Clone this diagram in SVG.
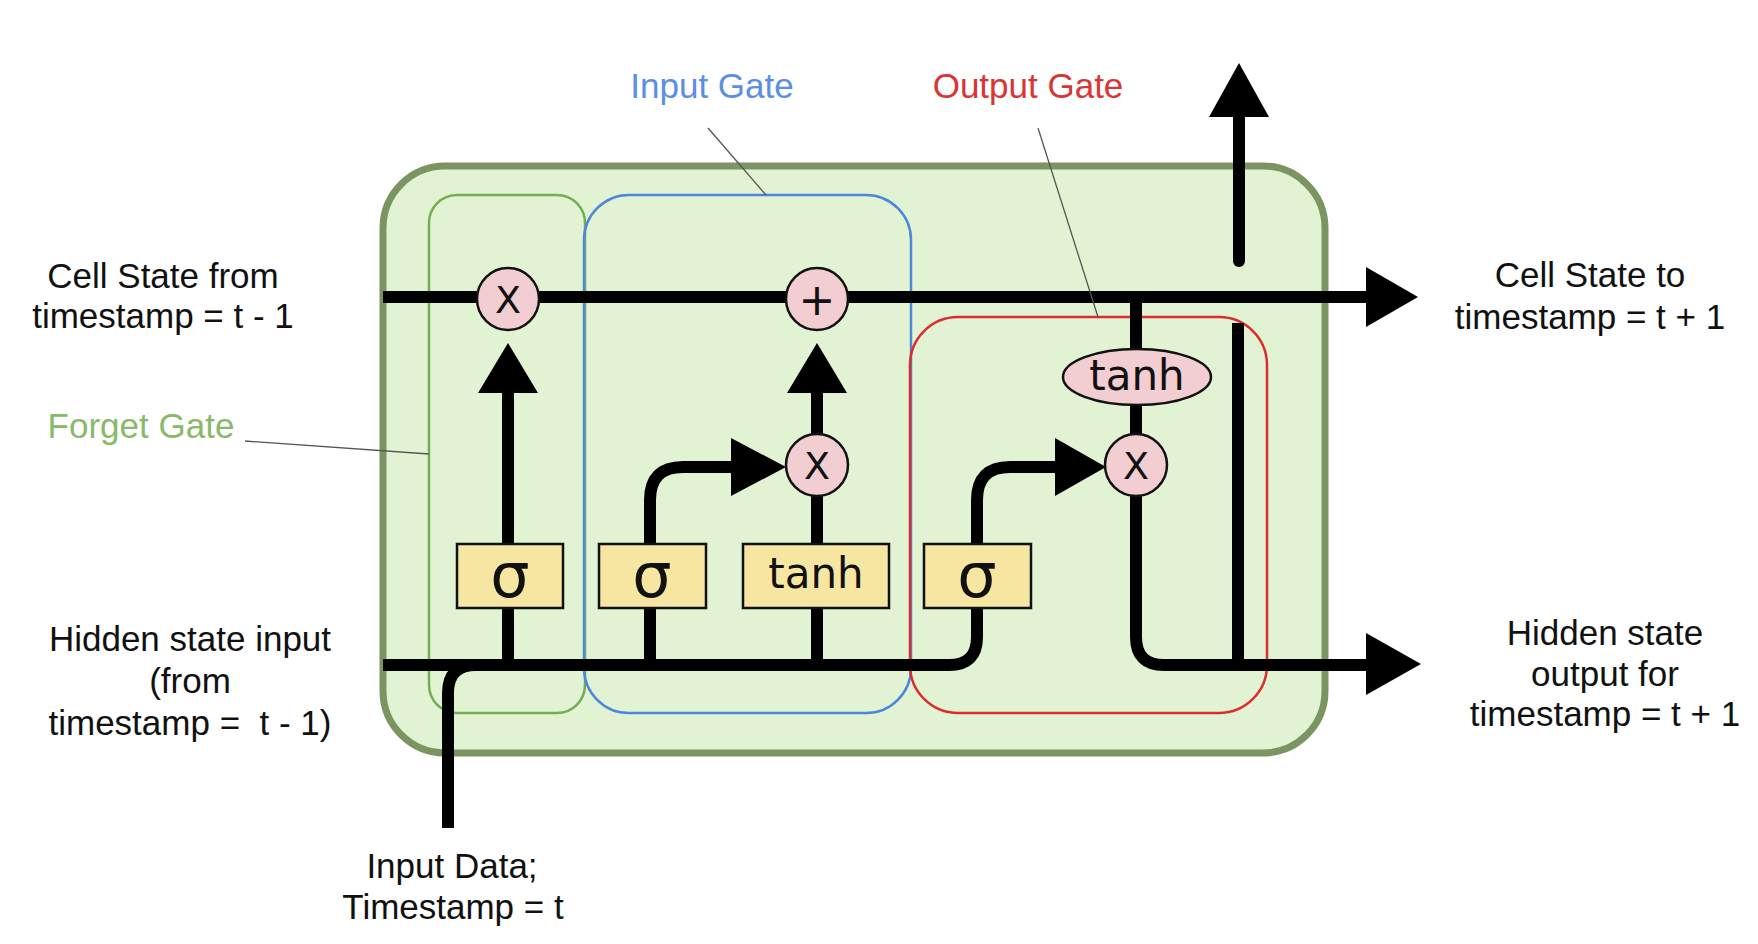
<svg xmlns="http://www.w3.org/2000/svg" width="1758" height="944" viewBox="0 0 1758 944">
<style>
.lbl{font-family:"Liberation Sans",Arial,sans-serif;font-size:35px;fill:#111;text-anchor:middle}
.op{font-family:"DejaVu Sans",sans-serif;fill:#111;text-anchor:middle}
.wire{fill:none;stroke:#000;stroke-width:12}
.head{fill:#000}
.circ{fill:#f2cdd1;stroke:#111;stroke-width:2.5}
.ybox{fill:#f7e6a2;stroke:#111;stroke-width:2.5}
.lead{stroke:#555;stroke-width:1.3;fill:none}
.gate{fill:none;stroke-width:2.5}
</style>
<rect width="1758" height="944" fill="#ffffff"/>

<g id="cell">
<rect x="383" y="166" width="942" height="587" rx="62" ry="62" fill="#e2f3d4" stroke="#7b9462" stroke-width="7"/>
</g>

<g id="gates">
<rect id="forget-gate" class="gate" x="429" y="195" width="156" height="518" rx="28" stroke="#74ae52"/>
<rect id="input-gate" class="gate" x="584" y="195" width="327" height="518" rx="45" stroke="#4d86dc"/>
<rect id="output-gate" class="gate" x="910" y="317" width="357" height="396" rx="48" stroke="#dc2d2d"/>
</g>

<g id="connectors">
<path class="wire" d="M383,297 H1370"/>
<polygon class="head" points="1366,267 1418,297 1366,327"/>
<path class="wire" d="M383,665 H949 Q977,665 977,637 V606"/>
<path class="wire" d="M448,828 V693 Q448,665 476,665 H500"/>
<path class="wire" d="M508,665 V606 M508,546 V390"/>
<polygon class="head" points="478,393 508,343 538,393"/>
<path class="wire" d="M650,665 V606 M650,546 V500 Q650,467 683,467 H735"/>
<polygon class="head" points="731,438 786,467 731,496"/>
<path class="wire" d="M817,665 V606 M817,546 V493 M817,437 V390"/>
<polygon class="head" points="787,393 817,343 847,393"/>
<path class="wire" d="M977,546 V500 Q977,467 1010,467 H1059"/>
<polygon class="head" points="1055,438 1106,467 1055,496"/>
<path class="wire" d="M1136,297 V350 M1136,404 V437 M1136,493 V637 Q1136,665 1164,665 H1370"/>
<polygon class="head" points="1366,633 1421,664 1366,695"/>
<path class="wire" d="M1238,323 V665"/>
<path class="wire" d="M1239,261 V112" stroke-linecap="round"/>
<path class="wire" d="M1239,118 V112"/>
<polygon class="head" points="1209,117 1239,63 1269,117"/>
</g>

<g id="leaders">
<path class="lead" d="M245,441 L429,454"/>
<path class="lead" d="M708,128 L766,195"/>
<path class="lead" d="M1038,128 L1098,317"/>
</g>

<g id="forget-mult"><circle class="circ" cx="508" cy="299" r="31"/><text class="op" x="508" y="300" font-size="38" dominant-baseline="central">X</text></g>
<g id="add"><circle class="circ" cx="817" cy="299" r="31"/><text class="op" x="817" y="299" font-size="44" dominant-baseline="central">+</text></g>
<g id="input-mult"><circle class="circ" cx="817" cy="465" r="31"/><text class="op" x="817" y="466" font-size="38" dominant-baseline="central">X</text></g>
<g id="output-mult"><circle class="circ" cx="1136" cy="465" r="31"/><text class="op" x="1136" y="466" font-size="38" dominant-baseline="central">X</text></g>
<g id="output-tanh"><ellipse class="circ" cx="1137" cy="377" rx="74" ry="28"/><text class="op" x="1137" y="390" font-size="42">tanh</text></g>

<g id="forget-sigma"><rect class="ybox" x="457" y="544" width="106" height="64"/><text class="op" x="510" y="597" font-size="62">σ</text></g>
<g id="input-sigma"><rect class="ybox" x="599" y="544" width="107" height="64"/><text class="op" x="652" y="597" font-size="62">σ</text></g>
<g id="input-tanh"><rect class="ybox" x="743" y="544" width="146" height="64"/><text class="op" x="816" y="588" font-size="42">tanh</text></g>
<g id="output-sigma"><rect class="ybox" x="924" y="544" width="107" height="64"/><text class="op" x="977" y="597" font-size="62">σ</text></g>

<g id="label-cell-in"><text class="lbl" x="163" y="288">Cell State from</text><text class="lbl" x="163" y="328">timestamp = t - 1</text></g>
<g id="label-forget"><text class="lbl" x="141" y="438" style="fill:#88ba6a">Forget Gate</text></g>
<g id="label-hidden-in"><text class="lbl" x="190" y="651">Hidden state input</text><text class="lbl" x="190" y="693">(from</text><text class="lbl" x="190" y="735" xml:space="preserve">timestamp =  t - 1)</text></g>
<g id="label-input-gate"><text class="lbl" x="712" y="98" style="fill:#5b8fe6">Input Gate</text></g>
<g id="label-output-gate"><text class="lbl" x="1028" y="98" style="fill:#d93535">Output Gate</text></g>
<g id="label-cell-out"><text class="lbl" x="1590" y="287">Cell State to</text><text class="lbl" x="1590" y="329">timestamp = t + 1</text></g>
<g id="label-hidden-out"><text class="lbl" x="1605" y="645">Hidden state</text><text class="lbl" x="1605" y="686">output for</text><text class="lbl" x="1605" y="726">timestamp = t + 1</text></g>
<g id="label-input"><text class="lbl" x="452" y="878">Input Data;</text><text class="lbl" x="453" y="919">Timestamp = t</text></g>
</svg>
